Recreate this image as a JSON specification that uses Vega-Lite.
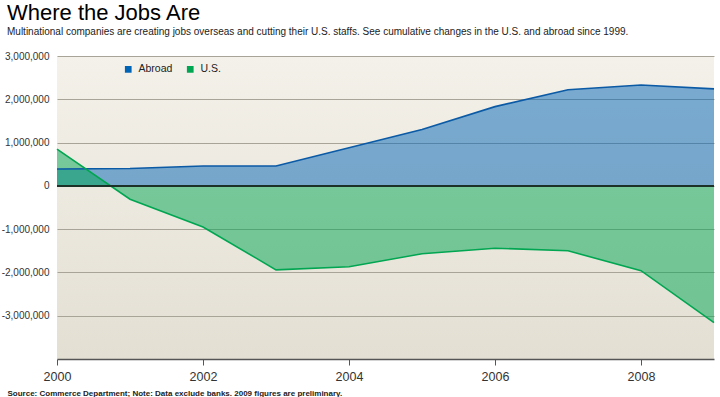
{
  "$schema": "https://vega.github.io/schema/vega-lite/v6.json",
  "width": 657,
  "height": 303,
  "autosize": {"type": "none"},
  "padding": {"left": 57, "top": 56, "right": 6, "bottom": 38},
  "background": "white",
  "title": {
    "text": "Where the Jobs Are",
    "subtitle": "Multinational companies are creating jobs overseas and cutting their U.S. staffs. See cumulative changes in the U.S. and abroad since 1999.",
    "anchor": "start",
    "frame": "group",
    "dx": -50,
    "offset": 13,
    "font": "Liberation Sans",
    "fontSize": 22,
    "fontWeight": "normal",
    "color": "#000",
    "subtitleFont": "Liberation Sans",
    "subtitleFontSize": 10,
    "subtitleColor": "#222",
    "subtitlePadding": 2
  },
  "config": {
    "view": {
      "stroke": null,
      "fill": {
        "gradient": "linear",
        "x1": 0, "y1": 0, "x2": 0, "y2": 1,
        "stops": [
          {"offset": 0, "color": "#f4f1ea"},
          {"offset": 1, "color": "#e3dfd3"}
        ]
      }
    },
    "font": "Liberation Sans"
  },
  "data": {
    "values": [
      {"year": 2000, "series": "Abroad", "jobs": 390000},
      {"year": 2001, "series": "Abroad", "jobs": 400000},
      {"year": 2002, "series": "Abroad", "jobs": 460000},
      {"year": 2003, "series": "Abroad", "jobs": 460000},
      {"year": 2004, "series": "Abroad", "jobs": 880000},
      {"year": 2005, "series": "Abroad", "jobs": 1300000},
      {"year": 2006, "series": "Abroad", "jobs": 1830000},
      {"year": 2007, "series": "Abroad", "jobs": 2220000},
      {"year": 2008, "series": "Abroad", "jobs": 2330000},
      {"year": 2009, "series": "Abroad", "jobs": 2240000},
      {"year": 2000, "series": "U.S.", "jobs": 850000},
      {"year": 2001, "series": "U.S.", "jobs": -310000},
      {"year": 2002, "series": "U.S.", "jobs": -950000},
      {"year": 2003, "series": "U.S.", "jobs": -1940000},
      {"year": 2004, "series": "U.S.", "jobs": -1870000},
      {"year": 2005, "series": "U.S.", "jobs": -1570000},
      {"year": 2006, "series": "U.S.", "jobs": -1440000},
      {"year": 2007, "series": "U.S.", "jobs": -1500000},
      {"year": 2008, "series": "U.S.", "jobs": -1960000},
      {"year": 2009, "series": "U.S.", "jobs": -3160000}
    ]
  },
  "encoding": {
    "x": {
      "field": "year",
      "type": "quantitative",
      "scale": {"domain": [2000, 2009], "nice": false, "zero": false},
      "axis": {
        "values": [2000, 2002, 2004, 2006, 2008],
        "format": "d",
        "grid": false,
        "labelFlush": false,
        "domainColor": "#555",
        "domainWidth": 1.5,
        "tickColor": "#555",
        "tickSize": 6,
        "labelFontSize": 12.5,
        "labelColor": "#333",
        "labelPadding": 5,
        "title": "Source: Commerce Department; Note: Data exclude banks. 2009 figures are preliminary.",
        "titleAnchor": "start",
        "titleAlign": "left",
        "titleBaseline": "alphabetic",
        "titleX": -50,
        "titleY": 36,
        "titleFont": "Liberation Sans",
        "titleFontSize": 8,
        "titleFontWeight": "bold",
        "titleColor": "#222"
      }
    },
    "y": {
      "field": "jobs",
      "type": "quantitative",
      "scale": {"domain": [-4000000, 3000000], "nice": false},
      "axis": {
        "values": [-3000000, -2000000, -1000000, 0, 1000000, 2000000, 3000000],
        "labelExpr": "replace(format(datum.value, ',d'), '\u2212', '-')",
        "grid": true,
        "gridColor": "#a8a498",
        "gridWidth": 1,
        "domain": false,
        "ticks": false,
        "labelFontSize": 10,
        "labelColor": "#333",
        "labelPadding": 8,
        "title": null
      }
    }
  },
  "layer": [
    {
      "mark": {"type": "area", "fillOpacity": 0.5},
      "encoding": {
        "y": {"field": "jobs", "type": "quantitative", "stack": null},
        "fill": {
          "field": "series",
          "type": "nominal",
          "scale": {"domain": ["Abroad", "U.S."], "range": ["#0064b6", "#00a651"]},
          "legend": {
            "title": null,
            "orient": "none",
            "legendX": 66,
            "legendY": 8,
            "direction": "horizontal",
            "symbolType": "square",
            "symbolSize": 45,
            "symbolOpacity": 1,
            "symbolStrokeWidth": 0,
            "labelFontSize": 10.5,
            "labelColor": "#222",
            "labelOffset": 5,
            "columnPadding": 12
          }
        }
      }
    },
    {
      "mark": {"type": "line", "strokeWidth": 1.6},
      "encoding": {
        "stroke": {
          "field": "series",
          "type": "nominal",
          "scale": {"domain": ["Abroad", "U.S."], "range": ["#0b5aa5", "#00a651"]},
          "legend": null
        }
      }
    },
    {
      "mark": {"type": "rule", "color": "#1c3328", "strokeWidth": 1.3},
      "encoding": {
        "y": {"datum": 0},
        "x": null
      }
    }
  ]
}
